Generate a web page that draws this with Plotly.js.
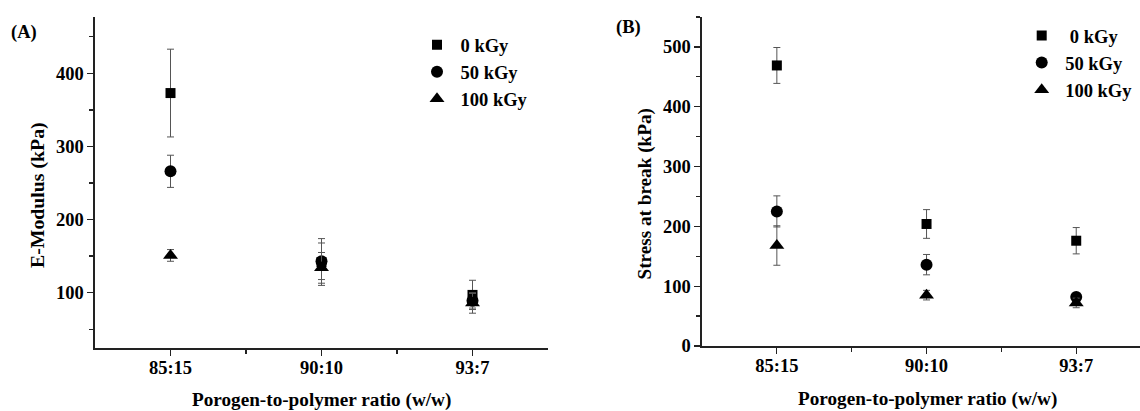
<!DOCTYPE html>
<html>
<head>
<meta charset="utf-8">
<script src="https://cdn.plot.ly/plotly-3.0.1.min.js"></script>
<style>html,body{margin:0;padding:0;background:#fff;}#chart{width:1140px;height:411px;}</style>
</head>
<body>
<div id="chart"></div>
<script>
// ---- data ----
const categories = ['85:15', '90:10', '93:7'];
const doses = ['0 kGy', '50 kGy', '100 kGy'];
const dosesB = ['\u00a00 kGy', '50 kGy', '100 kGy'];

// (A) E-Modulus (kPa)
const modulus0 = [373, 142, 97];
const modulus0Err = [60, 32, 20];
const modulus50 = [266, 143, 89];
const modulus50Err = [22, 25, 10];
const modulus100 = [151, 134, 86];
const modulus100Err = [8, 21, 14];

// (B) Stress at break (kPa)
const stress0 = [469, 204, 176];
const stress0Err = [30, 24, 22];
const stress50 = [225, 136, 82];
const stress50Err = [26, 17, 6];
const stress100 = [168, 85, 72];
const stress100Err = [33, 8, 8];

const symbols = ['square', 'circle', 'triangle-up'];
const sizes = [10, 12, 13];

// ---- styling ----
const W = 1140, H = 411;
const FONT = '"Liberation Serif"';
const INK = '#000';
const px = x => x / W;
const py = y => 1 - y / H;
const xIdx = categories.map((c, i) => i);

function makeTrace(name, y, err, k, xa, ya, legend) {
  return {
    type: 'scatter', mode: 'markers', name: name,
    x: xIdx, y: y, xaxis: xa, yaxis: ya, legend: legend,
    marker: {symbol: symbols[k], size: sizes[k], color: '#000'},
    error_y: {type: 'data', array: err, visible: true, color: '#555', thickness: 1, width: 3.5},
    cliponaxis: false
  };
}

const data = [
  makeTrace(doses[0], modulus0, modulus0Err, 0, 'x', 'y', 'legend'),
  makeTrace(doses[1], modulus50, modulus50Err, 1, 'x', 'y', 'legend'),
  makeTrace(doses[2], modulus100, modulus100Err, 2, 'x', 'y', 'legend'),
  makeTrace(dosesB[0], stress0, stress0Err, 0, 'x2', 'y2', 'legend2'),
  makeTrace(dosesB[1], stress50, stress50Err, 1, 'x2', 'y2', 'legend2'),
  makeTrace(dosesB[2], stress100, stress100Err, 2, 'x2', 'y2', 'legend2')
];

const tickFont = {family: FONT, size: 18.5, color: INK, weight: 'bold'};
const axisCommon = {
  showgrid: false, zeroline: false, showline: true, linecolor: '#222', linewidth: 1.6,
  ticks: 'outside', ticklen: 6, tickwidth: 1.3, tickcolor: '#222',
  tickfont: tickFont, fixedrange: true
};
const minorX = {tickmode: 'array', tickvals: [0.5, 1.5], ticks: 'outside', ticklen: 4, tickcolor: '#222', tickwidth: 1.3};
const minorY = {dtick: 50, tick0: 0, ticks: 'outside', ticklen: 4, tickcolor: '#222', tickwidth: 1.3};
const legendFont = {family: FONT, size: 18.5, color: INK, weight: 'bold'};
const titleFont = sz => ({family: FONT, size: sz, color: INK, weight: 'bold'});

const layout = {
  width: W, height: H,
  margin: {l: 0, r: 0, t: 0, b: 0},
  paper_bgcolor: '#fff', plot_bgcolor: 'rgba(0,0,0,0)',
  font: {family: FONT, color: INK},
  xaxis: Object.assign({}, axisCommon, {
    domain: [px(95), px(548)], anchor: 'y', range: [-0.5, 2.5],
    tickmode: 'array', tickvals: xIdx, ticktext: categories, ticklabelstandoff: -4, minor: minorX
  }),
  yaxis: Object.assign({}, axisCommon, {
    domain: [py(348.3), py(17)], anchor: 'x', range: [24, 477],
    tickmode: 'linear', tick0: 0, dtick: 100, minor: minorY
  }),
  xaxis2: Object.assign({}, axisCommon, {
    domain: [px(702), 1], anchor: 'y2', range: [-0.5, 2.426],
    tickmode: 'array', tickvals: xIdx, ticktext: categories, ticklabelstandoff: -4, minor: minorX
  }),
  yaxis2: Object.assign({}, axisCommon, {
    domain: [py(346), py(17)], anchor: 'x2', range: [0, 550],
    tickmode: 'linear', tick0: 0, dtick: 100, minor: minorY
  }),
  showlegend: true,
  legend: {
    x: px(413.5), y: py(26.2), xanchor: 'left', yanchor: 'top', itemwidth: 37,
    bgcolor: 'rgba(0,0,0,0)', borderwidth: 0, tracegroupgap: 0, font: legendFont
  },
  legend2: {
    x: px(1018.2), y: py(17), xanchor: 'left', yanchor: 'top', itemwidth: 37,
    bgcolor: 'rgba(0,0,0,0)', borderwidth: 0, tracegroupgap: 0, font: legendFont
  },
  annotations: [
    {text: '(A)', xref: 'paper', yref: 'paper', x: px(24), y: py(32), xanchor: 'center', yanchor: 'middle', showarrow: false, font: titleFont(18.5)},
    {text: '(B)', xref: 'paper', yref: 'paper', x: px(628), y: py(27), xanchor: 'center', yanchor: 'middle', showarrow: false, font: titleFont(18.5)},
    {text: 'E-Modulus (kPa)', xref: 'paper', yref: 'paper', x: px(37), y: py(195), textangle: -90, xanchor: 'center', yanchor: 'middle', showarrow: false, font: titleFont(19.8)},
    {text: 'Stress at break (kPa)', xref: 'paper', yref: 'paper', x: px(644.5), y: py(194), textangle: -90, xanchor: 'center', yanchor: 'middle', showarrow: false, font: titleFont(19.2)},
    {text: 'Porogen-to-polymer ratio (w/w)', xref: 'paper', yref: 'paper', x: px(321.7), y: py(400), xanchor: 'center', yanchor: 'middle', showarrow: false, font: titleFont(19.2)},
    {text: 'Porogen-to-polymer ratio (w/w)', xref: 'paper', yref: 'paper', x: px(927), y: py(399), xanchor: 'center', yanchor: 'middle', showarrow: false, font: titleFont(19.2)}
  ]
};

Plotly.newPlot('chart', data, layout, {displayModeBar: false, staticPlot: true});
</script>
</body>
</html>
